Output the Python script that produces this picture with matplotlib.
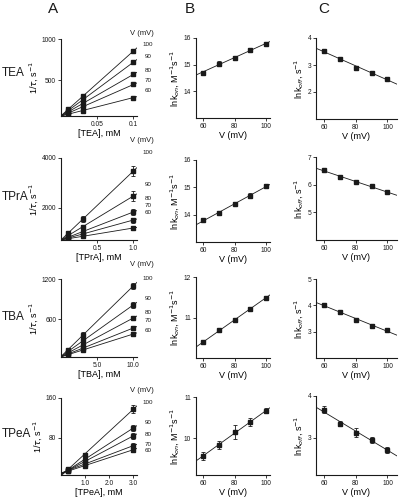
import matplotlib.pyplot as plt
import numpy as np

plt.rcParams['font.family'] = ['Liberation Sans', 'DejaVu Sans']

W, H = 399, 500

# voltages (mV)
volts = [60, 70, 80, 90, 100]
v_labels = ['100', '90', '80', '70', '60']

# ---- column A : 1/tau vs blocker concentration, one line per voltage (100..60 mV)
blockers = ['TEA', 'TPrA', 'TBA', 'TPeA']
conc_tea = [0.01, 0.03, 0.1]
rate_tea = [[150, 310, 854], [136, 265, 720], [121, 220, 573], [108, 178, 451], [93, 135, 293]]
err_tea = [[15, 25, 20], [12, 20, 18], [10, 18, 15], [10, 15, 12], [8, 12, 10]]

conc_tpra = [0.1, 0.3, 1.0]
rate_tpra = [[1000, 1550, 3480], [900, 1250, 2480], [830, 1060, 1840], [800, 960, 1520], [770, 870, 1200]]
err_tpra = [[60, 120, 200], [50, 90, 200], [40, 70, 110], [40, 60, 100], [30, 50, 90]]

conc_tba = [1.0, 3.0, 10.0]
rate_tba = [[136, 365, 1095], [108, 280, 810], [89, 215, 615], [74, 165, 465], [65, 135, 375]]
err_tba = [[20, 40, 45], [15, 30, 40], [15, 25, 30], [12, 20, 30], [10, 15, 25]]

conc_tpea = [0.3, 1.0, 3.0]
rate_tpea = [[18, 46, 138], [16, 36, 100], [15, 32, 84], [14, 28, 64], [13, 24, 56]]
err_tpea = [[3, 4, 8], [3, 4, 6], [3, 3, 6], [2, 3, 5], [2, 3, 4]]

# ---- column B : ln k_on vs V
lnkon = [[14.70, 15.04, 15.26, 15.55, 15.78],
         [13.79, 14.06, 14.40, 14.70, 15.04],
         [10.39, 10.68, 10.93, 11.22, 11.49],
         [9.56, 9.83, 10.15, 10.39, 10.66]]
lnkon_err = [[0.08, 0.08, 0.08, 0.06, 0.05],
             [0.06, 0.06, 0.05, 0.08, 0.08],
             [0.03, 0.04, 0.05, 0.05, 0.05],
             [0.10, 0.10, 0.18, 0.10, 0.06]]

# ---- column C : ln k_off vs V
lnkoff = [[3.52, 3.23, 2.90, 2.72, 2.47],
          [6.53, 6.27, 6.09, 5.95, 5.73],
          [4.03, 3.73, 3.45, 3.23, 3.06],
          [3.67, 3.33, 3.12, 2.95, 2.71]]
lnkoff_err = [[0.06, 0.05, 0.07, 0.04, 0.04],
              [0.05, 0.06, 0.04, 0.04, 0.04],
              [0.06, 0.06, 0.05, 0.05, 0.04],
              [0.08, 0.06, 0.10, 0.07, 0.07]]

a_conc = [conc_tea, conc_tpra, conc_tba, conc_tpea]
a_rate = [rate_tea, rate_tpra, rate_tba, rate_tpea]
a_err = [err_tea, err_tpra, err_tba, err_tpea]
a_xlim = [(0, 0.105), (0, 1.05), (0, 10.5), (0, 3.15)]
a_ylim = [(70, 1000), (720, 4000), (30, 1200), (5, 160)]
a_xticks = [[0.05, 0.1], [0.5, 1.0], [5.0, 10.0], [1.0, 2.0, 3.0]]
a_xtl = [['0.05', '0.1'], ['0.5', '1.0'], ['5.0', '10.0'], ['1.0', '2.0', '3.0']]
a_yticks = [[500, 1000], [2000, 4000], [600, 1200], [80, 160]]
b_ylim = [(13, 16), (13, 16), (10, 12), (9.1, 11)]
b_yticks = [[14, 15, 16], [14, 15, 16], [11, 12], [10, 11]]
c_ylim = [(1, 4), (4, 7), (2, 5), (2.1, 4)]
c_yticks = [[2, 3, 4], [5, 6, 7], [3, 4, 5], [3, 4]]

# axes boxes in pixels (top, bottom) per row
row_tb_a = [(39, 116), (158, 240), (279, 357), (398, 475)]
row_tb_b = [(38, 118), (160, 242), (277, 358), (397, 475)]
row_tb_c = [(38, 119), (157, 240), (279, 358), (396, 475)]
vlab_y = [[33, 45, 57, 70, 81, 91], [140, 152, 184, 199, 206, 213],
          [265, 278, 298, 312, 321, 330], [390, 403, 423, 435, 445, 451]]
row_lab_y = [73, 197, 317, 434]

ink = '#1a1a1a'
fig = plt.figure(figsize=(W / 100, H / 100), dpi=100)


def box(l, t, r, b):
    return [l / W, 1 - b / H, (r - l) / W, (b - t) / H]


def style(ax):
    for s in ['top', 'right']:
        ax.spines[s].set_visible(False)
    for s in ['left', 'bottom']:
        ax.spines[s].set_linewidth(0.8)
        ax.spines[s].set_color(ink)
    ax.tick_params(labelsize=4.8, length=2, width=0.6, pad=1.5, colors=ink)


fs_lab = 6.5
for i in range(4):
    # ---------- A
    t, b = row_tb_a[i]
    ax = fig.add_axes(box(61, t, 137, b))
    style(ax)
    xs = np.array(a_xlim[i])
    for k in range(5):
        p = np.polyfit(a_conc[i], a_rate[i][k], 1)
        ax.plot(xs, np.polyval(p, xs), color=ink, lw=0.6)
        ax.errorbar(a_conc[i], a_rate[i][k], yerr=a_err[i][k], fmt='s', ms=2.2,
                    color=ink, elinewidth=0.6, capsize=1.2, capthick=0.6)
    ax.set_xlim(a_xlim[i])
    ax.set_ylim(a_ylim[i])
    ax.set_xticks(a_xticks[i])
    ax.set_xticklabels(a_xtl[i])
    ax.set_yticks(a_yticks[i])
    ax.set_xlabel('[%s], mM' % blockers[i], fontsize=fs_lab, labelpad=1)
    ax.set_ylabel(r'1/$\tau$, s$^{-1}$', fontsize=fs_lab, labelpad=1)
    fig.text(142 / W, 1 - vlab_y[i][0] / H, 'V (mV)', fontsize=5.5, ha='center', va='center', color=ink)
    for k in range(5):
        fig.text(148 / W, 1 - vlab_y[i][k + 1] / H, v_labels[k], fontsize=4.5,
                 ha='center', va='center', color=ink)
    fig.text(2 / W, 1 - row_lab_y[i] / H, blockers[i], fontsize=8.5, ha='left', va='center', color=ink)

    # ---------- B
    t, b = row_tb_b[i]
    ax = fig.add_axes(box(196, t, 270, b))
    style(ax)
    xs = np.array([55.5, 102.5])
    p = np.polyfit(volts, lnkon[i], 1)
    ax.plot(xs, np.polyval(p, xs), color=ink, lw=0.6)
    ax.errorbar(volts, lnkon[i], yerr=lnkon_err[i], fmt='s', ms=2.2, color=ink,
                elinewidth=0.6, capsize=1.2, capthick=0.6)
    ax.set_xlim(55.5, 102.5)
    ax.set_ylim(b_ylim[i])
    ax.set_yticks(b_yticks[i])
    ax.set_xticks([60, 80, 100])
    ax.set_xlabel('V (mV)', fontsize=fs_lab, labelpad=1)
    ax.set_ylabel(r'lnk$_{on}$, M$^{-1}$s$^{-1}$', fontsize=fs_lab, labelpad=1)

    # ---------- C
    t, b = row_tb_c[i]
    ax = fig.add_axes(box(316, t, 397, b))
    style(ax)
    xs = np.array([55, 106])
    p = np.polyfit(volts, lnkoff[i], 1)
    ax.plot(xs, np.polyval(p, xs), color=ink, lw=0.6)
    ax.errorbar(volts, lnkoff[i], yerr=lnkoff_err[i], fmt='s', ms=2.2, color=ink,
                elinewidth=0.6, capsize=1.2, capthick=0.6)
    ax.set_xlim(55, 106)
    ax.set_ylim(c_ylim[i])
    ax.set_yticks(c_yticks[i])
    ax.set_xticks([60, 80, 100])
    ax.set_xlabel('V (mV)', fontsize=fs_lab, labelpad=1)
    ax.set_ylabel(r'lnk$_{off}$, s$^{-1}$', fontsize=fs_lab, labelpad=1)

for letter, x in zip(['A', 'B', 'C'], [53, 190, 324]):
    fig.text(x / W, 1 - 9 / H, letter, fontsize=11, ha='center', va='center', color=ink)

plt.savefig('out.png', dpi=100)
